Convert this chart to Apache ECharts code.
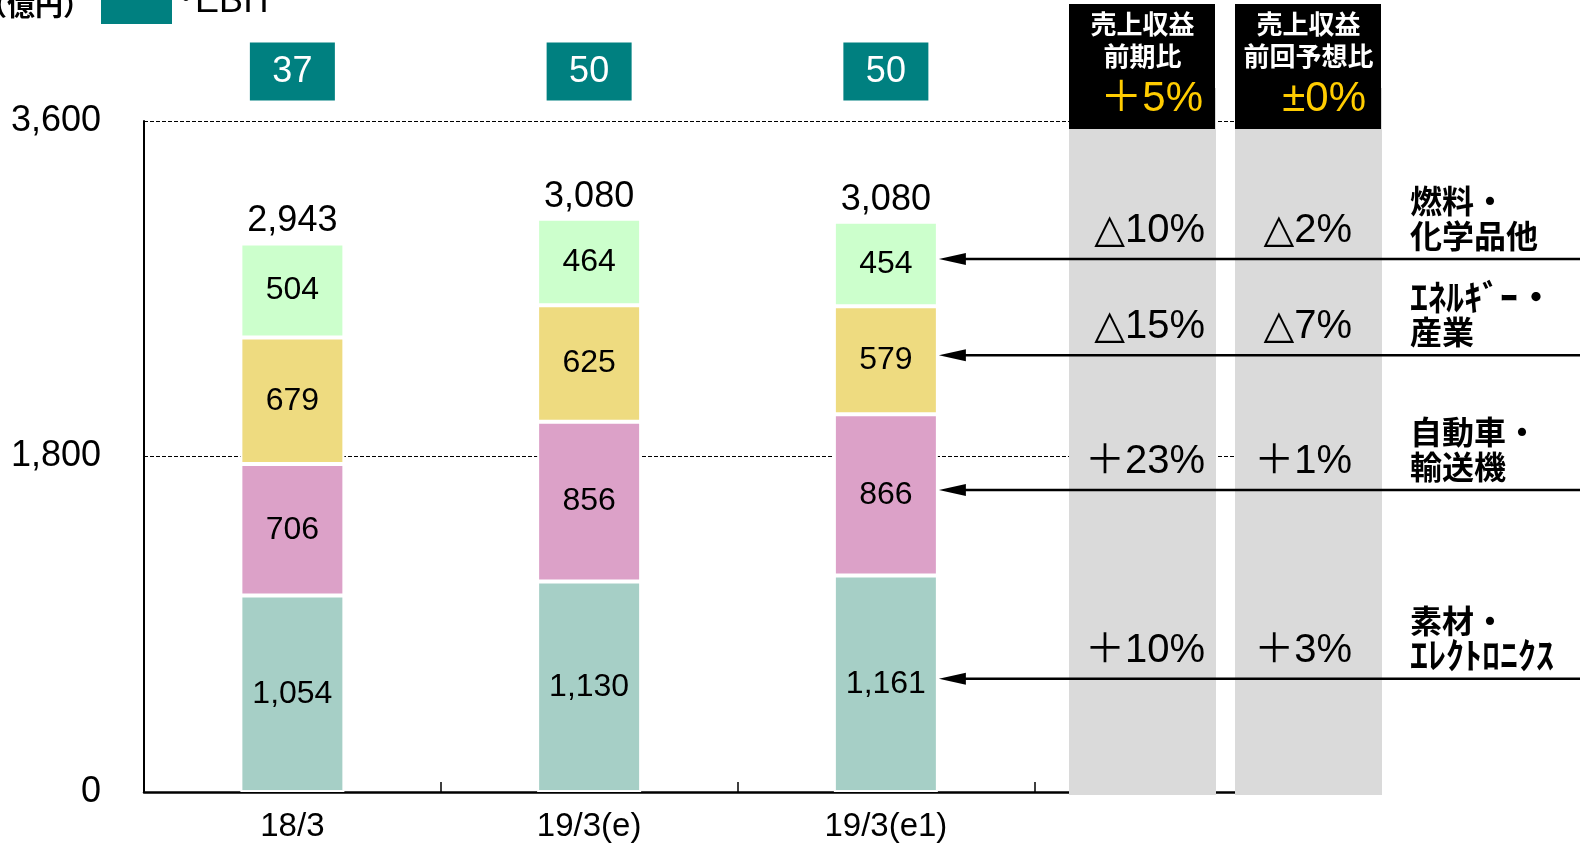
<!DOCTYPE html>
<html>
<head>
<meta charset="utf-8">
<script src="https://cdn.jsdelivr.net/npm/echarts@6/dist/echarts.min.js"></script>
<style>
html,body{margin:0;padding:0;background:#fff;}
#main{width:1585px;height:843px;}
</style>
</head>
<body>
<div id="main"></div>
<script>
// 売上収益（億円） セグメント別
var categories = ['18/3', '19/3(e)', '19/3(e1)', ''];
var materials = [1054, 1130, 1161];   // 素材・エレクトロニクス
var automotive = [706, 856, 866];     // 自動車・輸送機
var energy = [679, 625, 579];         // エネルギー・産業
var fuel = [504, 464, 454];           // 燃料・化学品他
var totals = [2943, 3080, 3080];
var ebit = [37, 50, 50];
var yTicks = [0, 1800, 3600];

// 右側の表（下のセグメントから順）
var segLabels = [['素材・', 'ｴﾚｸﾄﾛﾆｸｽ'], ['自動車・', '輸送機'], ['ｴﾈﾙｷﾞｰ・', '産業'], ['燃料・', '化学品他']];
var vsLastYear = ['＋10%', '＋23%', '△15%', '△10%'];
var vsForecast = ['＋3%', '＋1%', '△7%', '△2%'];
var totalVsLastYear = '＋5%';
var totalVsForecast = '±0%';

var SANS = '"Liberation Sans", "DejaVu Sans", "Noto Sans CJK JP", sans-serif';
var CJK = '"Noto Sans CJK JP", sans-serif';

var BAR_W = 104;
var EBIT_ROW = 3865;  // EBITの箱を置く高さ（軸の上）
var segData = [materials, automotive, energy, fuel];
var segNames = ['素材・エレクトロニクス', '自動車・輸送機', 'エネルギー・産業', '燃料・化学品他'];
var segColors = ['#a6cfc6', '#dca1c8', '#eedb80', '#ccffcc'];

var myChart = echarts.init(document.getElementById('main'));

var series = segData.map(function (d, k) {
    return {
        name: segNames[k],
        type: 'bar',
        stack: 'sales',
        barWidth: BAR_W,
        data: d,
        itemStyle: {color: segColors[k], borderColor: '#fff', borderWidth: 2},
        label: {
            show: true, position: 'inside', color: '#000',
            fontSize: 32, fontFamily: SANS,
            formatter: function (p) { return echarts.format.addCommas(p.value); }
        }
    };
});

// 合計ラベル
series.push({
    name: 'total',
    type: 'bar',
    stack: 'sales',
    barWidth: BAR_W,
    data: totals.map(function () { return 0; }),
    itemStyle: {color: 'rgba(0,0,0,0)'},
    label: {
        show: true, position: 'top', distance: 4, color: '#000',
        fontSize: 36, fontFamily: SANS,
        formatter: function (p) { return echarts.format.addCommas(totals[p.dataIndex]); }
    }
});

// EBIT
series.push({
    name: 'EBIT',
    type: 'scatter',
    clip: false,
    symbol: 'rect',
    symbolSize: [85, 58],
    data: ebit.map(function (v, i) { return [i, EBIT_ROW]; }),
    itemStyle: {color: '#008080', opacity: 1},
    label: {
        show: true, position: 'inside', color: '#fff',
        fontSize: 36, fontFamily: SANS,
        formatter: function (p) { return ebit[p.dataIndex]; }
    }
});

option = {
    animation: false,
    legend: {
        data: [{name: 'EBIT', icon: 'rect'}],
        left: 101,
        top: -20,
        padding: 0,
        itemWidth: 71,
        itemHeight: 44,
        formatter: '･EBIT',
        textStyle: {fontSize: 36, fontFamily: SANS, color: '#000'}
    },
    grid: {left: 144, right: 254, top: 121, bottom: 51, outerBoundsMode: 'none', containLabel: false},
    xAxis: {
        type: 'category',
        data: categories,
        axisLine: {lineStyle: {color: '#000', width: 2.5}},
        axisTick: {show: true, inside: true, length: 10, lineStyle: {color: '#000', width: 1.5}},
        axisLabel: {fontSize: 33, color: '#000', fontFamily: SANS, margin: 18}
    },
    yAxis: {
        type: 'value',
        min: yTicks[0],
        max: yTicks[yTicks.length - 1],
        interval: yTicks[1] - yTicks[0],
        axisLine: {show: true, lineStyle: {color: '#000', width: 2}},
        axisTick: {show: false},
        axisLabel: {
            fontSize: 36, color: '#000', fontFamily: SANS, margin: 43,
            formatter: function (v) { return echarts.format.addCommas(v); }
        },
        splitLine: {lineStyle: {color: '#000', width: 1, type: [4, 2]}}
    },
    series: series
};

myChart.setOption(option);

// 右側の表と矢印（3本目の棒の各セグメントを指す）
var barX = myChart.convertToPixel({xAxisIndex: 0}, 2);
var tipX = barX + BAR_W / 2 + 1;
var graphics = [];

// 灰色の列と見出し
var cols = [
    {x: 1069, w: 147, head: '売上収益\n前期比', total: totalVsLastYear, vals: vsLastYear, right: 1205, totalRight: 1203},
    {x: 1235, w: 147, head: '売上収益\n前回予想比', total: totalVsForecast, vals: vsForecast, right: 1352, totalRight: 1366}
];
cols.forEach(function (c) {
    graphics.push({type: 'rect', z: 5, shape: {x: c.x, y: 88, width: c.w, height: 707}, style: {fill: '#dadada'}});
    graphics.push({type: 'rect', z: 6, shape: {x: c.x, y: 4, width: c.w - 1, height: 125}, style: {fill: '#000'}});
    graphics.push({
        type: 'text', z: 7, x: c.x + c.w / 2, y: 40,
        style: {text: c.head, font: 'bold 26px ' + CJK, fill: '#fff', lineHeight: 32,
                textAlign: 'center', textVerticalAlign: 'middle'}
    });
    graphics.push({
        type: 'text', z: 7, x: c.totalRight, y: 99,
        style: {text: c.total, font: '42px ' + SANS, fill: '#ffcc00',
                textAlign: 'right', textVerticalAlign: 'middle'}
    });
});

var cum = 0;
segData.forEach(function (d, k) {
    var mid = cum + d[2] / 2;
    cum += d[2];
    var ay = myChart.convertToPixel({yAxisIndex: 0}, mid) - 5;
    graphics.push({type: 'line', z: 8, shape: {x1: 1580, y1: ay, x2: tipX + 20, y2: ay},
                   style: {stroke: '#000', lineWidth: 2.5}});
    graphics.push({type: 'polygon', z: 8, shape: {points: [[tipX, ay], [tipX + 27, ay - 6], [tipX + 27, ay + 6]]},
                   style: {fill: '#000'}});
    cols.forEach(function (c) {
        graphics.push({
            type: 'text', z: 7, x: c.right, y: ay - 28,
            style: {text: c.vals[k], font: '40px ' + SANS, fill: '#000',
                    textAlign: 'right', textVerticalAlign: 'middle'}
        });
    });
    // 1行目・2行目（半角カナの行は少し大きく）
    segLabels[k].forEach(function (line, j) {
        var halfKana = /[\uff61-\uff9f]/.test(line);
        graphics.push({
            type: 'text', z: 7, x: 1410, y: ay + (j === 0 ? -58 : -23),
            style: {text: line, font: 'bold ' + (halfKana ? 36 : 32) + 'px ' + CJK, fill: '#000',
                    textAlign: 'left', textVerticalAlign: 'middle'}
        });
    });
});

// 単位
graphics.push({
    type: 'text', z: 7, x: -21, y: 5,
    style: {text: '（億円）', font: 'bold 28px ' + CJK, fill: '#000',
            textAlign: 'left', textVerticalAlign: 'middle'}
});

myChart.setOption({graphic: graphics});
</script>
</body>
</html>
